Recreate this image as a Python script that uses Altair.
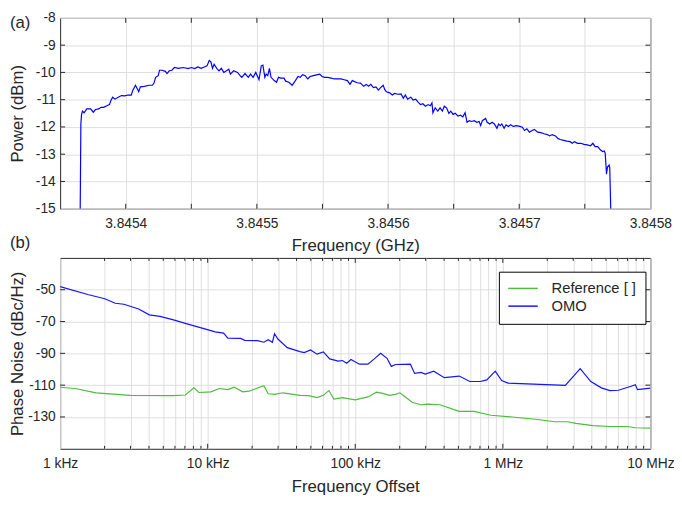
import altair as alt
import pandas as pd

FONT = "Liberation Sans"
TXT = "#262626"

# ---------------- panel (a): spectrum (offset in kHz from 3.8454 GHz) ----------------
spec_offset_khz = [
    -34.70, -34.20, -33.70, -32.97, -31.73, -29.74, -26.77, -24.79, -23.05, -20.57, -18.84,
    -16.86, -14.38, -12.40, -11.16, -9.92, -8.18, -5.70, -3.23, -0.75, 1.73, 4.21, 5.45,
    7.43, 8.67, 9.91, 11.15, 14.12, 17.84, 20.32, 21.56, 22.80, 24.78, 25.77, 27.75, 30.23,
    31.47, 33.20, 35.19, 37.17, 40.14, 43.86, 47.58, 50.06, 52.54, 55.01, 57.49, 59.97,
    61.95, 63.69, 64.93, 66.17, 67.41, 69.39, 71.12, 72.86, 74.84, 76.82, 78.56, 79.80,
    82.28, 85.25, 87.23, 88.47, 90.95, 93.43, 95.16, 97.14, 99.13, 101.61, 103.34, 104.58,
    106.07, 107.06, 108.30, 109.54, 110.78, 113.25, 114.99, 116.48, 118.21, 120.69, 121.93,
    124.41, 126.88, 129.36, 131.35, 133.08, 134.81, 136.80, 138.78, 140.52, 142.99, 145.47,
    147.95, 149.68, 151.67, 154.15, 156.62, 159.10, 161.58, 164.06, 166.54, 169.02, 171.00,
    172.73, 176.46, 178.94, 181.41, 183.40, 185.13, 186.87, 188.85, 190.83, 192.57, 194.30,
    196.28, 197.52, 198.76, 201.24, 203.22, 204.96, 207.44, 209.92, 211.65, 213.14, 214.87,
    217.35, 219.09, 221.07, 223.05, 224.79, 226.52, 228.50, 230.49, 232.22, 233.46, 234.20,
    235.94, 237.92, 239.65, 241.39, 242.88, 244.61, 246.35, 247.83, 249.57, 251.30, 253.29,
    255.27, 257.00, 258.74, 260.22, 261.96, 263.69, 265.68, 267.66, 269.39, 270.63, 271.87,
    274.35, 275.59, 277.57, 279.31, 281.04, 283.03, 284.26, 285.50, 286.74, 288.48, 289.96,
    291.70, 293.43, 295.42, 297.90, 300.37, 302.36, 304.09, 305.83, 307.81, 309.79, 311.53,
    314.00, 316.48, 318.96, 321.44, 323.17, 325.16, 327.63, 329.62, 331.35, 333.83, 336.31,
    338.79, 340.52, 342.01, 344.49, 346.97, 349.44, 351.92, 354.40, 356.14, 357.87, 359.85,
    361.84, 363.57, 364.81, 365.55, 366.54, 367.29, 368.53, 369.02, 369.77,
]
spec_power_dbm = [
    -15.00, -11.90, -11.55, -11.42, -11.48, -11.34, -11.34, -11.46, -11.36, -11.34, -11.28,
    -11.28, -11.22, -11.18, -11.01, -10.91, -10.98, -10.91, -10.85, -10.86, -10.83, -10.83, -10.65,
    -10.47, -10.59, -10.71, -10.53, -10.51, -10.47, -10.47, -10.39, -10.18, -10.12, -9.92, -9.92, -9.96,
    -10.04, -9.94, -9.92, -9.82, -9.85, -9.82, -9.86, -9.82, -9.86, -9.80, -9.85, -9.80,
    -9.76, -9.56, -9.61, -9.85, -9.70, -9.85, -9.94, -9.85, -10.00, -9.94, -9.88, -10.06,
    -9.94, -10.00, -10.12, -10.18, -10.04, -10.18, -10.06, -10.18, -10.00, -10.27, -9.76, -9.73,
    -10.18, -10.06, -10.12, -9.85, -10.18, -10.30, -10.36, -10.18, -10.21, -10.21, -10.32,
    -10.36, -10.47, -10.30, -10.15, -10.18, -10.08, -10.12, -10.24, -10.15, -10.12, -10.09,
    -10.06, -10.15, -10.18, -10.18, -10.21, -10.24, -10.24, -10.24, -10.27, -10.30, -10.44,
    -10.30, -10.38, -10.39, -10.51, -10.44, -10.51, -10.44, -10.56, -10.53, -10.65, -10.56,
    -10.47, -10.63, -10.71, -10.75, -10.83, -10.77, -10.80, -10.79, -10.95, -10.83, -10.98,
    -10.91, -11.01, -10.98, -11.10, -11.18, -11.15, -11.24, -11.18, -11.22, -11.12, -11.48,
    -11.30, -11.42, -11.30, -11.42, -11.24, -11.30, -11.50, -11.42, -11.54, -11.50, -11.60,
    -11.57, -11.63, -11.48, -11.83, -11.77, -11.80, -11.77, -11.83, -11.80, -11.95, -11.77,
    -11.69, -11.83, -11.89, -11.83, -11.89, -12.05, -11.89, -11.95, -11.89, -12.05, -11.92,
    -11.98, -11.92, -11.98, -11.95, -11.98, -12.01, -12.13, -12.07, -12.19, -12.13, -12.09,
    -12.19, -12.21, -12.25, -12.28, -12.33, -12.28, -12.33, -12.43, -12.46, -12.49, -12.52,
    -12.54, -12.60, -12.54, -12.60, -12.60, -12.64, -12.66, -12.69, -12.60, -12.72, -12.72,
    -12.84, -12.90, -12.88, -12.96, -13.73, -13.47, -13.40, -13.50, -15.00,
]
spec_center_ghz = 3.8454
spec_ticks_ghz = [3.8454, 3.84545, 3.8455, 3.84555, 3.8456, 3.84565, 3.8457, 3.84575, 3.8458]
spec_power_ticks = [-15, -14, -13, -12, -11, -10, -9, -8]

# ---------------- panel (b): phase noise ----------------
omo_freq_hz = [
    1000, 1538, 2005, 2366, 2701, 3406, 4019, 4745, 5785, 7543, 9829, 11222, 12812, 13690,
    16700, 17836, 21768, 24037, 25687, 27443, 28366, 29910, 34602, 42214, 45102, 49812,
    55015, 60770, 67113, 76620, 81867, 87478, 93475, 106700, 121800, 134560, 148600,
    164200, 175400, 187400, 236300, 252500, 278800, 298000, 340100, 401400, 506100,
    597400, 704900, 778500, 888800, 981500, 1084000, 1614000, 2652000, 3344000, 3947000,
    4656000, 5316000, 6070000, 7403000, 7911000, 8177000, 10000000,
]
omo_pn_dbc = [
    -48.0, -53.0, -55.7, -58.5, -59.1, -62.1, -65.8, -66.8, -68.8, -71.9, -74.9, -76.5, -77.3, -80.4,
    -80.6, -81.8, -82.0, -83.0, -81.4, -83.0, -77.7, -81.0, -86.4, -88.9, -89.5, -87.9,
    -90.5, -89.1, -93.5, -94.9, -94.5, -96.2, -93.9, -96.8, -96.8, -93.5, -89.9,
    -93.1, -98.2, -97.0, -96.8, -102.6, -102.0, -103.0, -101.2, -105.3, -104.3,
    -107.7, -107.7, -106.7, -101.2, -107.1, -108.7, -109.3, -110.1, -99.6, -107.7,
    -111.7, -113.4, -113.2, -110.7, -109.7, -112.8, -111.9,
]
ref_freq_hz = [
    1000, 1261, 1756, 2984, 5785, 7058, 8058, 8725, 10502, 11991, 13690, 15118, 17266, 19062,
    24037, 25687, 28366, 32385, 42214, 48195, 55015, 60770, 66239, 71710, 81867, 99870,
    121800, 139100, 153600, 169600, 187400, 200300, 214000, 244300, 278800, 308000, 375600,
    506100, 638300, 831800, 1158000, 1724000, 2246000, 2741000, 3129000, 4077000, 5316000,
    6929000, 7911000, 10000000,
]
ref_pn_dbc = [
    -111.3, -112.1, -114.8, -116.4, -116.6, -116.2, -111.7, -114.6, -114.2, -112.1, -112.8, -111.3, -114.2, -113.8,
    -110.3, -115.4, -115.8, -114.8, -116.4, -116.6, -117.8, -116.4, -113.4, -118.8, -117.8, -119.2,
    -117.4, -114.4, -115.2, -116.4, -115.8, -114.8, -116.8, -120.9, -122.3, -121.9, -122.3,
    -126.5, -126.5, -128.9, -130.0, -131.6, -133.0, -133.0, -134.0, -135.4, -136.0,
    -136.0, -136.8, -137.0,
]
series_names = ["Reference [ ]", "OMO"]
series_colors = ["#4dbb3d", "#1414ff"]
pn_ticks = [-130, -110, -90, -70, -50]
decades = [1000, 10000, 100000, 1000000, 10000000]
decade_labels = ["1 kHz", "10 kHz", "100 kHz", "1 MHz", "10 MHz"]
offset_ticks = [m * d for d in decades[:-1] for m in range(1, 10)] + [decades[-1]]

W, H = 600, 194

# ---------------- data frames ----------------
spec_df = pd.DataFrame({
    "f": [spec_center_ghz + o * 1e-6 for o in spec_offset_khz],
    "p": spec_power_dbm,
})
pn_df = pd.concat([
    pd.DataFrame({"f": ref_freq_hz, "p": ref_pn_dbc, "s": series_names[0]}),
    pd.DataFrame({"f": omo_freq_hz, "p": omo_pn_dbc, "s": series_names[1]}),
])


def xticks(df, x, length):
    bot = alt.Chart(df).mark_rule(color=TXT, strokeWidth=1).encode(x=x, y=alt.value(H - length), y2=alt.value(H))
    top = alt.Chart(df).mark_rule(color=TXT, strokeWidth=1).encode(x=x, y=alt.value(0), y2=alt.value(length))
    return [bot, top]


def yticks(df, y, length):
    lft = alt.Chart(df).mark_rule(color=TXT, strokeWidth=1).encode(y=y, x=alt.value(0), x2=alt.value(length))
    rgt = alt.Chart(df).mark_rule(color=TXT, strokeWidth=1).encode(y=y, x=alt.value(W - length), x2=alt.value(W))
    return [lft, rgt]


def panel_label(text, ypos):
    return alt.Chart(pd.DataFrame({"t": [text]})).mark_text(
        align="left", baseline="alphabetic", fontSize=17, font=FONT, color=TXT
    ).encode(x=alt.value(-51), y=alt.value(ypos), text="t:N")


# ---------------- panel (a) ----------------
label_a_expr = "(round(datum.value*100000) % 2 == 0) ? format(datum.value, '.4f') : ''"
xa = alt.X("f:Q", scale=alt.Scale(domain=[3.84535, 3.8458], nice=False, zero=False),
           axis=alt.Axis(values=spec_ticks_ghz, labelExpr=label_a_expr, title="Frequency (GHz)",
                         titleX=W / 2, titleY=42, titleBaseline="alphabetic", labelFlush=False,
                         labelOverlap=False, labelPadding=8))
ya = alt.Y("p:Q", scale=alt.Scale(domain=[-15, -8], nice=False, zero=False),
           axis=alt.Axis(values=spec_power_ticks, labelExpr="datum.value + ''", title="Power (dBm)",
                         titleX=-38, titleY=H / 2, titleBaseline="alphabetic", labelPadding=5))

line_a = alt.Chart(spec_df).mark_line(color="#0000ff", strokeWidth=1.2, clip=True).encode(x=xa, y=ya)
xt_a = pd.DataFrame({"f": spec_ticks_ghz[:-1]})
yt_a = pd.DataFrame({"p": spec_power_ticks[1:-1]})

top = alt.layer(line_a, *xticks(xt_a, xa, 5), *yticks(yt_a, ya, 5),
                panel_label("(a)", 10)).properties(width=W, height=H)

# ---------------- panel (b) ----------------
lab_expr = " : ".join(
    f"datum.value == {d} ? '{l}'" for d, l in zip(decades, decade_labels)
) + " : ''"
xb = alt.X("f:Q", scale=alt.Scale(type="log", domain=[1000, 10000000], nice=False),
           axis=alt.Axis(values=offset_ticks, labelExpr=lab_expr, title="Frequency Offset",
                         titleX=W / 2, titleY=43, titleBaseline="alphabetic", labelFlush=False,
                         labelOverlap=False, labelPadding=8))
yb = alt.Y("p:Q", scale=alt.Scale(domain=[-150, -30], nice=False, zero=False),
           axis=alt.Axis(values=pn_ticks, labelExpr="datum.value + ''", title="Phase Noise (dBc/Hz)",
                         titleX=-38, titleY=H / 2, titleBaseline="alphabetic", labelPadding=5))

legend = alt.Legend(orient="none", legendX=446, legendY=14, title=None, padding=9.5,
                    strokeColor="#000000", fillColor="#ffffff", symbolType="M-1.5,0H4.5",
                    symbolSize=100, symbolStrokeWidth=1.5, labelFontSize=15, labelOffset=29,
                    rowPadding=2, labelFont=FONT, labelColor=TXT, cornerRadius=0)
line_b = alt.Chart(pn_df).mark_line(strokeWidth=1.2, clip=True).encode(
    x=xb, y=yb,
    color=alt.Color("s:N", scale=alt.Scale(domain=series_names, range=series_colors), legend=legend),
)
xt_b_major = pd.DataFrame({"f": decades[1:-1]})
xt_b_minor = pd.DataFrame({"f": [v for v in offset_ticks if v not in decades]})
yt_b = pd.DataFrame({"p": pn_ticks})

bottom = alt.layer(line_b, *xticks(xt_b_major, xb, 5), *xticks(xt_b_minor, xb, 3),
                   *yticks(yt_b, yb, 5), panel_label("(b)", -10)).properties(width=W, height=H)

chart = alt.vconcat(top, bottom, spacing=50, bounds="flush").resolve_scale(
    color="independent"
).resolve_legend(color="independent").properties(
    padding={"left": 0, "top": -2, "right": -1, "bottom": 0}
).configure_view(stroke=TXT, strokeWidth=1).configure_axis(
    labelFont=FONT, titleFont=FONT, labelFontSize=14, titleFontSize=17,
    labelColor=TXT, titleColor=TXT, titleFontWeight="normal",
    gridColor="#dedede", gridWidth=1, gridOpacity=1, ticks=False, domain=False,
)

chart.save("out.html", embed_options={"renderer": "svg", "actions": False})
